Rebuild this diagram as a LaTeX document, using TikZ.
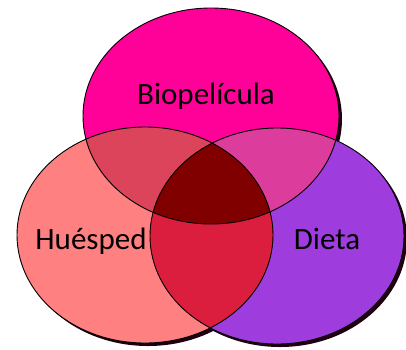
\documentclass[tikz,border=0pt]{standalone}
\usepackage{fontspec}
\setmainfont{Carlito}
\definecolor{cTop}{RGB}{255,0,153}
\definecolor{cLeft}{RGB}{255,128,128}
\definecolor{cRight}{RGB}{158,60,222}
\definecolor{cTL}{RGB}{220,68,92}
\definecolor{cTR}{RGB}{220,60,156}
\definecolor{cLR}{RGB}{220,30,62}
\definecolor{cAll}{RGB}{128,0,0}
\definecolor{cShadow}{RGB}{32,0,16}
\begin{document}
\begin{tikzpicture}[x=1pt,y=-1pt,
  lbl/.style={font=\fontsize{31}{34}\selectfont, text=black, inner sep=0pt, anchor=base},
  edge/.style={draw=black, line width=0.9pt}]
\useasboundingbox (0,0) rectangle (406,349);
\def\topE{(211,116) ellipse [x radius=128, y radius=108]}
\def\leftE{(145,235) ellipse [x radius=128, y radius=108]}
\def\rightE{(277,236) ellipse [x radius=127, y radius=108]}
% shadows
\fill[cShadow] (214,119) ellipse [x radius=128, y radius=108];
\fill[cShadow] (148,238) ellipse [x radius=128, y radius=108];
\fill[cShadow] (280,239) ellipse [x radius=127, y radius=108];
% base fills
\fill[cTop] \topE;
\fill[cLeft] \leftE;
\fill[cRight] \rightE;
% pairwise
\begin{scope}\clip \topE; \fill[cTL] \leftE; \fill[cTR] \rightE; \end{scope}
\begin{scope}\clip \leftE; \fill[cLR] \rightE; \end{scope}
\begin{scope}\clip \topE; \clip \leftE; \fill[cAll] \rightE; \end{scope}
% outlines
\draw[edge] \topE;
\draw[edge] \leftE;
\draw[edge] \rightE;
\node[lbl] (bio) at (206,104) {Biopelícula};
\node[lbl] (hue) at (91,249) {Huésped};
\node[lbl] (die) at (327,249) {Dieta};
\end{tikzpicture}
\end{document}
